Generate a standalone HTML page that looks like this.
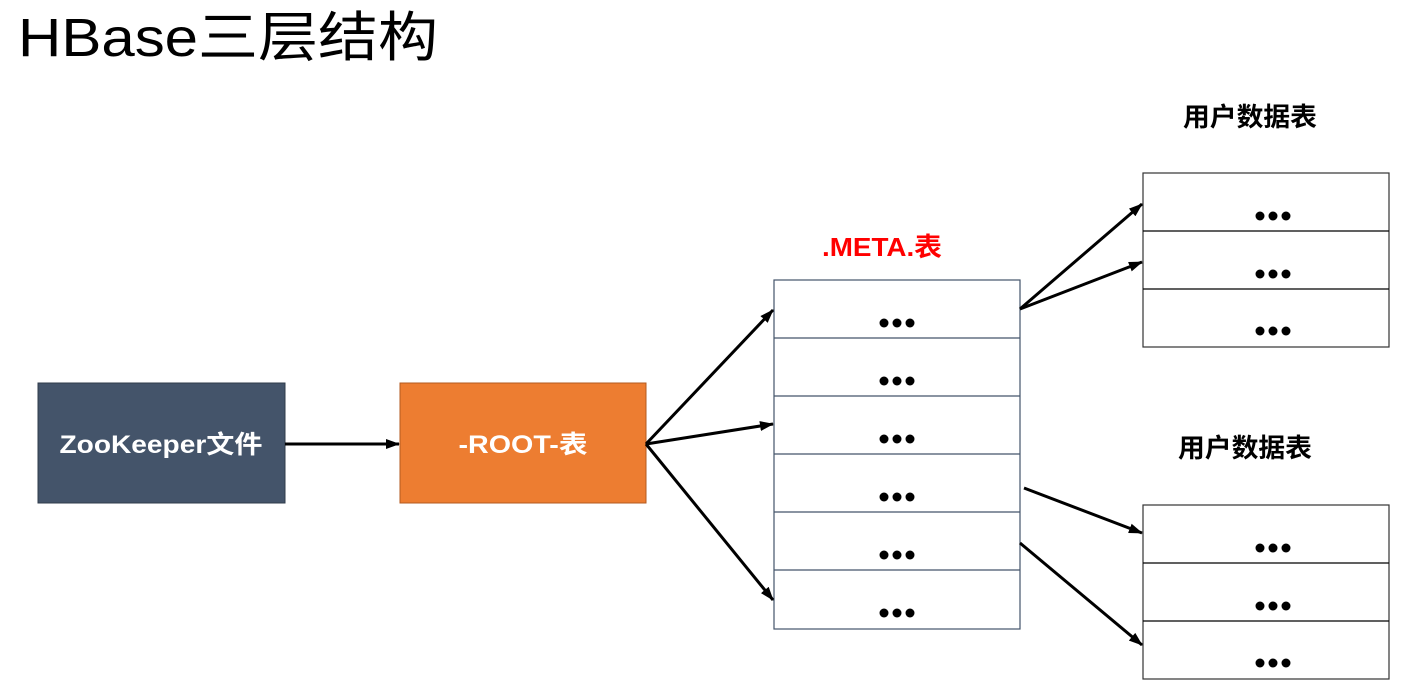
<!DOCTYPE html>
<html><head><meta charset="utf-8"><style>
html,body{margin:0;padding:0;background:#fff;}
svg text{font-family:"Liberation Sans","Noto Sans CJK SC",sans-serif;}
</style></head><body>
<svg width="1401" height="686" viewBox="0 0 1401 686" xmlns="http://www.w3.org/2000/svg">
<defs>
<marker id="a" markerWidth="14" markerHeight="10" refX="13" refY="5" orient="auto" markerUnits="userSpaceOnUse"><path d="M0,0 L14,5 L0,10 z" fill="#000"/></marker>
<g id="d"><circle cx="-13" cy="0" r="4.5"/><circle cx="0" cy="0" r="4.5"/><circle cx="13" cy="0" r="4.5"/></g>
</defs>
<text x="18" y="56" font-size="54" fill="#000" textLength="420" lengthAdjust="spacingAndGlyphs">HBase三层结构</text>
<rect x="38" y="383" width="247" height="120" fill="#44546a" stroke="#2f3b4b"/>
<text x="161" y="453" font-size="25" font-weight="bold" fill="#fff" text-anchor="middle" textLength="203" lengthAdjust="spacingAndGlyphs">ZooKeeper文件</text>
<rect x="400" y="383" width="246" height="120" fill="#ed7d31" stroke="#b35a1f"/>
<text x="523" y="453" font-size="25" font-weight="bold" fill="#fff" text-anchor="middle" textLength="129" lengthAdjust="spacingAndGlyphs">-ROOT-表</text>
<text x="882" y="256" font-size="26" font-weight="bold" fill="#ff0000" text-anchor="middle" textLength="120" lengthAdjust="spacingAndGlyphs">.META.表</text>
<text x="1250" y="126" font-size="26" font-weight="bold" fill="#000" text-anchor="middle" textLength="134" lengthAdjust="spacingAndGlyphs">用户数据表</text>
<text x="1245" y="457" font-size="26" font-weight="bold" fill="#000" text-anchor="middle" textLength="134" lengthAdjust="spacingAndGlyphs">用户数据表</text>
<g fill="#fff" stroke-width="1.2">
<rect x="774" y="280" width="246" height="349" stroke="#44546a"/>
<rect x="1143" y="173" width="246" height="174" stroke="#333"/>
<rect x="1143" y="505" width="246" height="174" stroke="#333"/>
</g>
<g stroke="#44546a" stroke-width="1.2">
<line x1="774" y1="338" x2="1020" y2="338"/><line x1="774" y1="396" x2="1020" y2="396"/>
<line x1="774" y1="454" x2="1020" y2="454"/><line x1="774" y1="512" x2="1020" y2="512"/>
<line x1="774" y1="570" x2="1020" y2="570"/>
</g>
<g stroke="#000" stroke-width="1.2">
<line x1="1143" y1="231" x2="1389" y2="231"/><line x1="1143" y1="289" x2="1389" y2="289"/>
<line x1="1143" y1="563" x2="1389" y2="563"/><line x1="1143" y1="621" x2="1389" y2="621"/>
</g>
<g fill="#000">
<use href="#d" x="897" y="323"/><use href="#d" x="897" y="381"/><use href="#d" x="897" y="439"/>
<use href="#d" x="897" y="497"/><use href="#d" x="897" y="555"/><use href="#d" x="897" y="613"/>
<use href="#d" x="1273" y="216"/><use href="#d" x="1273" y="274"/><use href="#d" x="1273" y="331"/>
<use href="#d" x="1273" y="548"/><use href="#d" x="1273" y="606"/><use href="#d" x="1273" y="663"/>
</g>
<g stroke="#000" stroke-width="3" marker-end="url(#a)" fill="none">
<line x1="285" y1="444" x2="399" y2="444"/>
<line x1="646" y1="444" x2="773" y2="310"/>
<line x1="646" y1="444" x2="773" y2="424"/>
<line x1="646" y1="444" x2="773" y2="600"/>
<line x1="1020" y1="309" x2="1142" y2="204"/>
<line x1="1020" y1="309" x2="1142" y2="262"/>
<line x1="1024" y1="488" x2="1142" y2="533"/>
<line x1="1020" y1="543" x2="1142" y2="645"/>
</g>
</svg>
</body></html>
